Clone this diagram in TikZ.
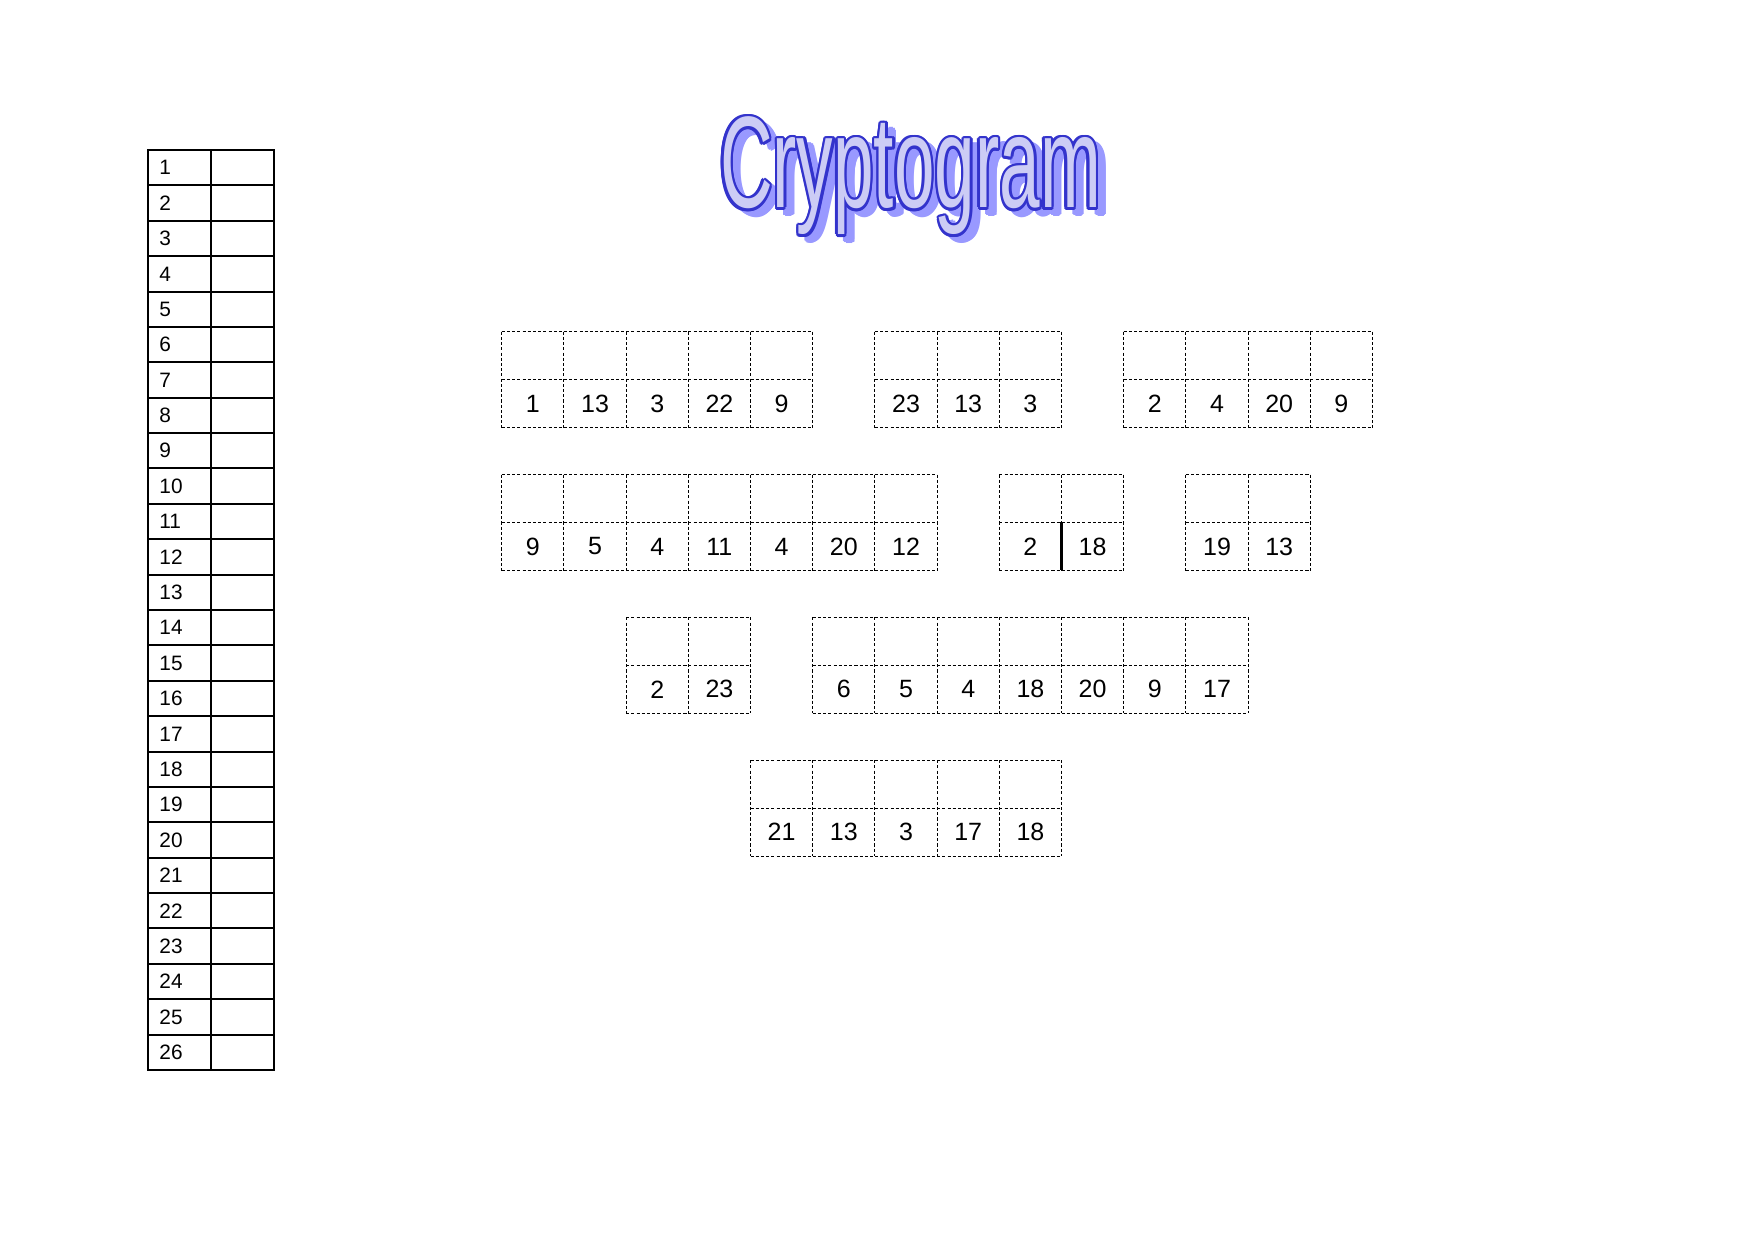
\documentclass[tikz,border=0pt]{standalone}
\usepackage{fontspec}
\setmainfont{Liberation Sans}
\usetikzlibrary{calc}
\definecolor{ttlblue}{RGB}{51,51,204}
\definecolor{ttlfill}{RGB}{204,204,245}
\definecolor{ttlshadow}{RGB}{153,153,255}
\newcommand\ttltext{\scalebox{0.56}[1]{\fontsize{62.5}{62.5}\selectfont Cryptogram}}
\newcommand\wordgroup[4]{%
  \pgfmathsetmacro\gy{331.7+142.8*#2}%
  \pgfmathsetmacro\gx{501.7+62.2*#3}%
  \def\glist{#4}%
  \foreach \n [count=\k from 0] in \glist {%
    \pgfmathsetmacro\cx{\gx+62.2*\k}%
    \draw[dashline] (\cx,\gy) -- ++(0,96);
    \draw[dashline] (\cx,\gy) -- ++(62.2,0);
    \draw[dashline] (\cx,\gy+48) -- ++(62.2,0);
    \draw[dashline] (\cx,\gy+96) -- ++(62.2,0);
    \node[digit] (#1-\k) at (\cx+31.1,\gy+72) {\n};
    \xdef\lastk{\k}%
  }%
  \pgfmathsetmacro\ex{\gx+62.2*(\lastk+1)}%
  \draw[dashline] (\ex,\gy) -- ++(0,96);
}
\begin{document}
\begin{tikzpicture}[x=0.48pt,y=-0.48pt,
  dashline/.style={line width=0.5pt,dash pattern=on 1.5pt off 1pt},
  tabline/.style={line width=0.95pt},
  digit/.style={font=\fontsize{12}{12}\selectfont,inner sep=0pt},
  tabnum/.style={font=\fontsize{10}{10}\selectfont,anchor=west,inner sep=0pt},
  ttl/.style={anchor=base west,inner sep=0pt,outer sep=0pt}]
\fill[white] (0,0) rectangle (1754,1240);
\useasboundingbox (0,0) rectangle (1754,1240);
% title
\coordinate (T) at (720,208);
\foreach \a [count=\j] in {0,45,...,315}
  \node[ttl,text=ttlshadow] (s\j) at ($(T)+(\a:1.2pt)+(3.84pt,-2.88pt)$) {\ttltext};
\foreach \a [count=\j] in {0,30,...,330}
  \node[ttl,text=ttlblue] (o\j) at ($(T)+(\a:1.2pt)$) {\ttltext};
\node[ttl,text=ttlfill] (title) at (T) {\ttltext};
% key table
\draw[tabline] (148.3,150) rectangle (274,1070);
\draw[tabline] (211,150) -- (211,1070);
\foreach \i in {1,...,25}
  \draw[tabline] (148.3,{150+35.385*\i}) -- (274,{150+35.385*\i});
\foreach \i in {1,...,26}
  \node[tabnum] (n\i) at (159,{150+35.385*(\i-0.5)}) {\i};
% word groups
\wordgroup{a}{0}{0}{1,13,3,22,9}
\wordgroup{b}{0}{6}{23,13,3}
\wordgroup{c}{0}{10}{2,4,20,9}
\wordgroup{d}{1}{0}{9,5,4,11,4,20,12}
\wordgroup{e}{1}{8}{2,18}
\wordgroup{f}{1}{11}{19,13}
\wordgroup{g}{2}{2}{2,23}
\wordgroup{h}{2}{5}{6,5,4,18,20,9,17}
\wordgroup{i}{3}{4}{21,13,3,17,18}
\coordinate (dtop) at (1061.5,522.3);
\coordinate (dbot) at (1061.5,570.3);
\draw[line width=1pt] (dtop) -- (dbot);
\end{tikzpicture}
\end{document}
